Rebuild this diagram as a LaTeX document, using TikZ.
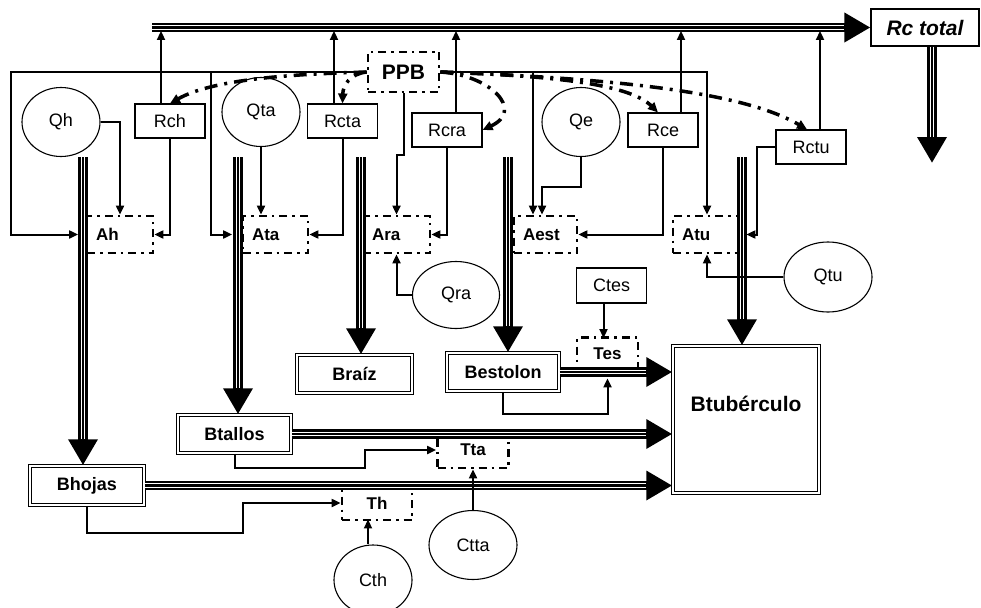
\documentclass[tikz,border=0pt]{standalone}
\usepackage{fontspec}
\setmainfont{Liberation Sans}
\usetikzlibrary{arrows.meta,shapes.geometric}
\tikzset{
  pool/.style={draw,ellipse,line width=1.1pt,inner sep=0pt,font=\fontsize{18}{20}\selectfont},
  rate/.style={draw,rectangle,line width=1.1pt,inner sep=0pt,minimum width=70pt,minimum height=34pt,font=\fontsize{18}{20}\selectfont},
  dashbox/.style={draw,line width=2.8pt,dash pattern=on 8pt off 5pt on 2.5pt off 5pt,inner sep=0pt,font=\fontsize{17}{20}\selectfont\bfseries},
  accum/.style={dashbox,inner xsep=9pt,minimum height=37pt,align=left},
  store/.style={draw,double,double distance=1.5pt,line width=1.5pt,inner sep=0pt,font=\fontsize{18}{20}\selectfont\bfseries},
  link/.style={line width=2pt,-{Triangle[length=9pt,width=8pt]}},
  ctrl/.style={line width=3.5pt,dash pattern=on 13pt off 7pt on 3pt off 7pt,-{Triangle[length=10pt,width=9pt]}},
  flow/.style={line width=9.4pt,-{Triangle[length=26pt,width=28pt]},
    postaction={draw=white,line width=4.8pt,-,shorten >=26pt},
    postaction={draw=black,line width=2.8pt,-,shorten >=26pt}},
}
\begin{document}
\begin{tikzpicture}[x=1pt,y=-1pt]
\useasboundingbox (0,0) rectangle (981,607);

\node[rate,minimum width=108pt,minimum height=37pt,font=\fontsize{21}{24}\selectfont\bfseries\itshape] (Rctot) at (925,27.5) {Rc total};
\node[dashbox,minimum width=71pt,minimum height=40pt,font=\fontsize{21}{24}\selectfont\bfseries] (PPB) at (403.5,72) {PPB};

\node[pool,minimum width=78pt,minimum height=69pt] (Qh) at (61,122) {Qh};
\node[pool,minimum width=78pt,minimum height=69pt] (Qta) at (261,112) {Qta};
\node[pool,minimum width=78pt,minimum height=69pt] (Qe) at (581,122) {Qe};
\node[pool,minimum width=87pt,minimum height=67pt] (Qra) at (456,295) {Qra};
\node[pool,minimum width=88pt,minimum height=70pt] (Qtu) at (828,277) {Qtu};
\node[pool,minimum width=88pt,minimum height=69pt] (Ctta) at (473,545) {Ctta};
\node[pool,minimum width=78pt,minimum height=70pt] (Cth) at (373,580) {Cth};

\node[rate] (Rch) at (170,121) {Rch};
\node[rate] (Rcta) at (342.5,121) {Rcta};
\node[rate] (Rcra) at (447,130) {Rcra};
\node[rate] (Rce) at (663,130) {Rce};
\node[rate] (Rctu) at (811,147) {Rctu};
\node[rate,minimum height=35pt] (Ctes) at (611.5,285.5) {Ctes};

\node[accum,text width=48pt] (Ah) at (120,234.5) {Ah};
\node[accum,text width=47pt] (Ata) at (275.5,234.5) {Ata};
\node[accum,text width=49pt] (Ara) at (396.5,234.5) {Ara};
\node[accum,text width=45pt] (Aest) at (545.5,234.5) {Aest};
\node[accum,text width=50pt] (Atu) at (707,234.5) {Atu};

\node[dashbox,minimum width=61pt,minimum height=33pt] (Tes) at (607.5,354) {Tes};
\node[dashbox,minimum width=71pt,minimum height=36pt] (Tta) at (473,450) {Tta};
\node[dashbox,minimum width=70pt,minimum height=34pt] (Th) at (377,503) {Th};

\node[store,minimum width=115pt,minimum height=38pt] (Braiz) at (354.5,374) {Braíz};
\node[store,minimum width=112pt,minimum height=38pt] (Bestolon) at (503,372) {Bestolon};
\node[store,minimum width=113pt,minimum height=38pt] (Btallos) at (234.5,434) {Btallos};
\node[store,minimum width=114pt,minimum height=39pt] (Bhojas) at (87,485.5) {Bhojas};
\node[store,minimum width=146pt,minimum height=147pt,text depth=32pt,font=\fontsize{21}{24}\selectfont\bfseries] (Btub) at (746,419.5) {Btubérculo};

\coordinate (busL) at (152,27.5);
\coordinate (rcend) at (932,163);
\coordinate (hsrc) at (83,157);
\coordinate (tasrc) at (238,157);
\coordinate (rasrc) at (361,157);
\coordinate (esrc) at (508,157);
\coordinate (tusrc) at (742,157);
\coordinate (frameL) at (11,72);
\coordinate (frameM) at (211,72);
\coordinate (frameE) at (533,72);

\draw[flow] (busL) -- (Rctot.west);
\draw[flow] (rcend |- Rctot.south) -- (rcend);
\draw[flow] (hsrc) -- (hsrc |- Bhojas.north);
\draw[flow] (tasrc) -- (tasrc |- Btallos.north);
\draw[flow] (rasrc) -- (rasrc |- Braiz.north);
\draw[flow] (esrc) -- (esrc |- Bestolon.north);
\draw[flow] (tusrc) -- (tusrc |- Btub.north);
\draw[flow] (Bestolon.east) -- (Btub.west |- Bestolon.east);
\draw[flow] (Btallos.east) -- (Btub.west |- Btallos.east);
\draw[flow] (Bhojas.east) -- (Btub.west |- Bhojas.east);

\draw[link] (PPB.west) -- (frameL) |- ([xshift=-7.5pt]Ah.west);
\draw[link] (frameM) |- ([xshift=-9.5pt]Ata.west);
\draw[link] (PPB.east) -| (Atu.north);
\draw[link] (frameE) -- (frameE |- Aest.north);
\draw[link] (PPB.south) -- ++(0,62) -| (Ara.north);

\draw[link] (Qh.east) -| (Ah.north);
\draw[link] (Rch.south) |- (Ah.east);
\draw[link] (Qta.south) -- (Qta.south |- Ata.north);
\draw[link] (Rcta.south) |- (Ata.east);
\draw[link] (Rcra.south) |- (Ara.east);
\draw[link] (Qra.west) -| (Ara.south);
\draw[link] (Qe.south) -- ++(0,30) -| ([xshift=-3.5pt]Aest.north);
\draw[link] (Rce.south) |- (Aest.east);
\draw[link] (Rctu.west) -- ++(-18,0) |- ([xshift=4pt]Atu.east);
\draw[link] (Qtu.west) -| (Atu.south);

\draw[link] ([xshift=-9pt]Rch.north) -- ++(0,-72.5);
\draw[link] ([xshift=-8.5pt]Rcta.north) -- ++(0,-72.5);
\draw[link] ([xshift=9pt]Rcra.north) -- ++(0,-81.5);
\draw[link] ([xshift=18pt]Rce.north) -- ++(0,-81.5);
\draw[link] ([xshift=9pt]Rctu.north) -- ++(0,-98.5);

\draw[link] ([xshift=-8pt]Ctes.south) -- ++(0,34.5);
\draw[link] (Bestolon.south) -- ++(0,22) -| ([yshift=-6.5pt]Tes.south);
\draw[link] (Btallos.south) -- ++(0,14) -- ++(130,0) |- (Tta.west);
\draw[link] (Ctta.north) -- (Tta.south);
\draw[link] (Bhojas.south) -- ++(0,27) -- ++(156,0) |- (Th.west);
\draw[link] ([xshift=-5pt]Cth.north) -- ++(0,-25);

\draw[ctrl] (PPB.west) .. controls (300,74) and (215,78) .. (Rch.north);
\draw[ctrl] (PPB.west) .. controls (350,74) and (343,85) .. (Rcta.north);
\draw[ctrl] (PPB.east) .. controls (490,75) and (525,110) .. (Rcra.east);
\draw[ctrl] (PPB.east) .. controls (560,76) and (630,85) .. ([xshift=-5pt]Rce.north);
\draw[ctrl] (PPB.east) .. controls (600,78) and (740,90) .. ([xshift=-4pt]Rctu.north);
\end{tikzpicture}
\end{document}
